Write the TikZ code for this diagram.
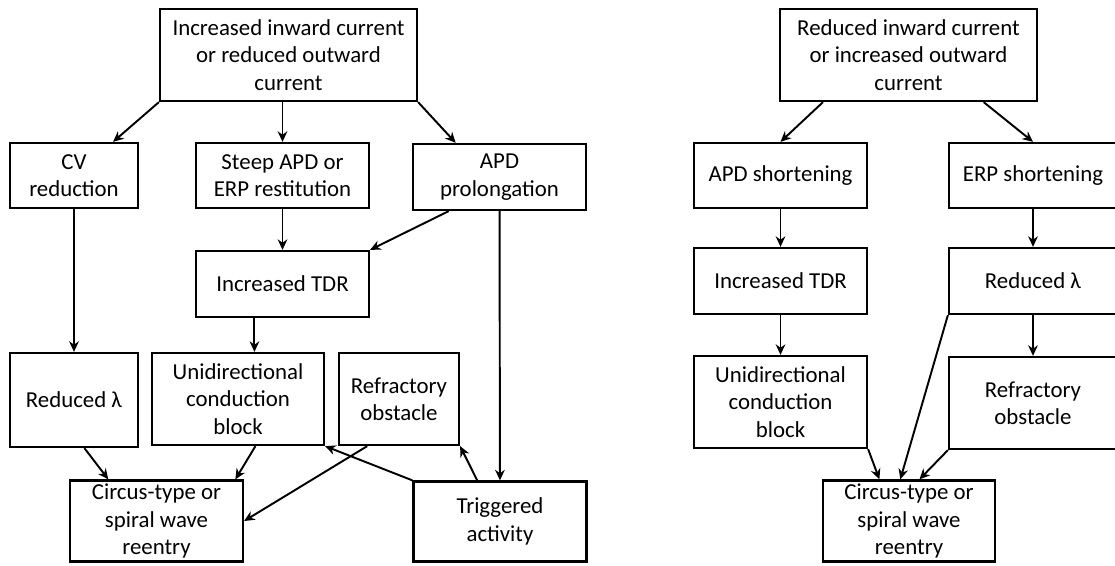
\documentclass[tikz,border=0pt]{standalone}
\usepackage{fontspec}
\setmainfont{Carlito}
\usetikzlibrary{arrows.meta,calc}

\tikzset{
  box/.style={draw, line width=1.3pt, align=center, inner sep=0pt, font=\fontsize{13}{15.6}\selectfont},
  wbox/.style={box, minimum width=3.46cm},
  nbox/.style={box, minimum width=2.56cm},
  arr/.style={-{Stealth[length=6pt,width=5.5pt]}, line width=1.1pt},
}

\begin{document}
\begin{tikzpicture}[x=0.02cm, y=-0.02cm]
\useasboundingbox (0,0) rectangle (1115,565);
% left panel
\node[box, minimum width=5.14cm, minimum height=1.84cm] (inc) at (288.5,55) {Increased inward current\\or reduced outward\\current};
\node[nbox, minimum height=1.3cm] (cv) at (74,175.5) {CV\\reduction};
\node[wbox, minimum height=1.3cm] (steep) at (282.5,175.5) {Steep APD or\\ERP restitution};
\node[wbox, minimum height=1.32cm] (prol) at (499.5,177) {APD\\prolongation};
\node[wbox, minimum height=1.32cm] (tdrL) at (282.5,284) {Increased TDR};
\node[nbox, minimum height=1.88cm] (lamL) at (74,400) {Reduced λ};
\node[box, minimum width=3.44cm, minimum height=1.84cm] (uniL) at (238,399) {Unidirectional\\conduction\\block};
\node[box, minimum width=2.4cm, minimum height=1.84cm] (refL) at (399,399) {Refractory\\obstacle};
\node[wbox, minimum height=1.62cm] (circL) at (156.5,521) {Circus-type or\\spiral wave\\reentry};
\node[wbox, minimum height=1.6cm] (trig) at (500,521.5) {Triggered\\activity};

\draw[arr] (inc.south west) -- ($(cv.north west)!0.8!(cv.north east)$);
\draw[arr] (steep.north |- inc.south) -- (steep.north);
\draw[arr] (inc.south east) -- ($(prol.north west)!0.25!(prol.north east)$);
\draw[arr] (steep) -- (tdrL);
\draw[arr] ($(prol.south west)!0.21!(prol.south east)$) -- (tdrL.north east);
\draw[arr] (cv) -- (lamL);
\draw[arr] ($(tdrL.south west)!0.34!(tdrL.south east)$) coordinate (t) -- (t |- uniL.north);
\draw[arr] (prol) -- (trig);
\draw[arr] ($(lamL.south west)!0.58!(lamL.south east)$) -- ($(circL.north west)!0.225!(circL.north east)$);
\draw[arr] ($(uniL.south west)!0.6!(uniL.south east)$) -- ($(circL.north west)!0.95!(circL.north east)$);
\draw[arr] ($(refL.south west)!0.24!(refL.south east)$) -- (circL.east);
\draw[arr] (trig.north west) -- (uniL.south east);
\draw[arr] ($(trig.north west)!0.37!(trig.north east)$) -- (refL.south east);

% right panel
\node[box, minimum width=5.14cm, minimum height=1.84cm] (red) at (908.5,55) {Reduced inward current\\or increased outward\\current};
\node[wbox, minimum height=1.3cm] (apds) at (780.5,175.5) {APD shortening};
\node[box, minimum width=3.36cm, minimum height=1.3cm] (erps) at (1033,175.5) {ERP shortening};
\node[wbox, minimum height=1.32cm] (tdrR) at (780.5,281) {Increased TDR};
\node[box, minimum width=3.36cm, minimum height=1.32cm] (lamR) at (1033,281) {Reduced λ};
\node[wbox, minimum height=1.84cm] (uniR) at (780.5,402) {Unidirectional\\conduction\\block};
\node[box, minimum width=3.36cm, minimum height=1.84cm] (refR) at (1033,403) {Refractory\\obstacle};
\node[box, minimum width=3.44cm, minimum height=1.62cm] (circR) at (909,521) {Circus-type or\\spiral wave\\reentry};

\draw[arr] ($(red.south west)!0.17!(red.south east)$) -- (apds.north);
\draw[arr] ($(red.south west)!0.79!(red.south east)$) -- (erps.north);
\draw[arr] (apds) -- (tdrR);
\draw[arr] (erps) -- (lamR);
\draw[arr] (tdrR) -- (uniR);
\draw[arr] (lamR) -- (refR);
\draw[arr] (uniR.south east) -- ($(circR.north west)!0.33!(circR.north east)$);
\draw[arr] (lamR.south west) -- ($(circR.north west)!0.45!(circR.north east)$);
\draw[arr] (refR.south west) -- ($(circR.north west)!0.56!(circR.north east)$);
\end{tikzpicture}
\end{document}
